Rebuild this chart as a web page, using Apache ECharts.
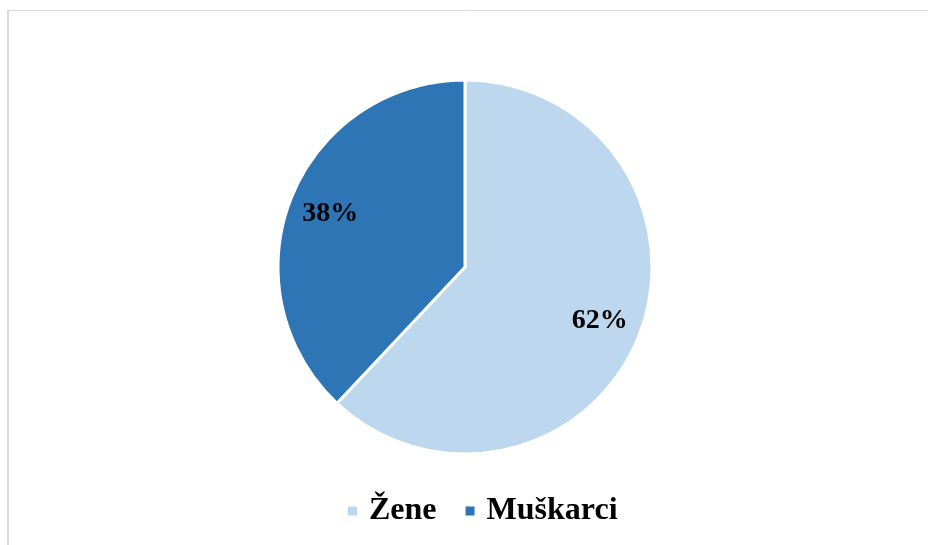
<!DOCTYPE html>
<html>
<head>
<meta charset="utf-8">
<script src="https://cdn.jsdelivr.net/npm/echarts@6/dist/echarts.min.js"></script>
<style>
  html, body { margin: 0; padding: 0; background: #fff; }
  #main { width: 928px; height: 545px; }
</style>
</head>
<body>
<div id="main"></div>
<script>
// kategorije i vrijednosti (postoci)
const categories = ['Žene', 'Muškarci']
const values = [62, 38]
const colors = ['#BDD7EE', '#2E75B6']

const chart = echarts.init(document.getElementById('main'))

const pieData = categories.map((name, i) => ({
  name: name,
  value: values[i],
  itemStyle: { color: colors[i] }
}))

const option = {
  animation: false,
  textStyle: { fontFamily: '"Liberation Serif", "Times New Roman", serif' },
  graphic: [
    // rub okvira grafikona (lijevo i gore)
    { type: 'line', shape: { x1: 8, y1: 10, x2: 8, y2: 545 }, style: { stroke: '#d9d9d9', lineWidth: 2 } },
    { type: 'line', shape: { x1: 7, y1: 10.5, x2: 928, y2: 10.5 }, style: { stroke: '#d9d9d9', lineWidth: 1 } }
  ],
  legend: {
    bottom: 18,
    left: 346,
    padding: 0,
    icon: 'rect',
    itemWidth: 11,
    itemHeight: 11,
    itemGap: 27,
    data: categories,
    textStyle: {
      fontFamily: '"Liberation Serif", "Times New Roman", serif',
      fontWeight: 'bold',
      fontSize: 32,
      color: '#000',
      padding: [0, 0, 0, 6]
    }
  },
  series: [
    {
      type: 'pie',
      center: [465, 267],
      radius: [0, 187],
      startAngle: 90,
      clockwise: true,
      silent: true,
      itemStyle: { borderColor: '#fff', borderWidth: 3 },
      label: { show: false },
      labelLine: { show: false },
      data: pieData
    },
    {
      // prozirna serija samo za oznake postotaka
      type: 'pie',
      center: [465, 267],
      radius: [100, 184],
      startAngle: 90,
      clockwise: true,
      silent: true,
      legendHoverLink: false,
      itemStyle: { color: 'transparent' },
      label: {
        show: true,
        position: 'inside',
        formatter: '{c}%',
        fontFamily: '"Liberation Serif", "Times New Roman", serif',
        fontWeight: 'bold',
        fontSize: 28,
        color: '#000'
      },
      labelLine: { show: false },
      data: categories.map((name, i) => ({ name: name + ' ', value: values[i] }))
    }
  ]
}

option && chart.setOption(option)
</script>
</body>
</html>
